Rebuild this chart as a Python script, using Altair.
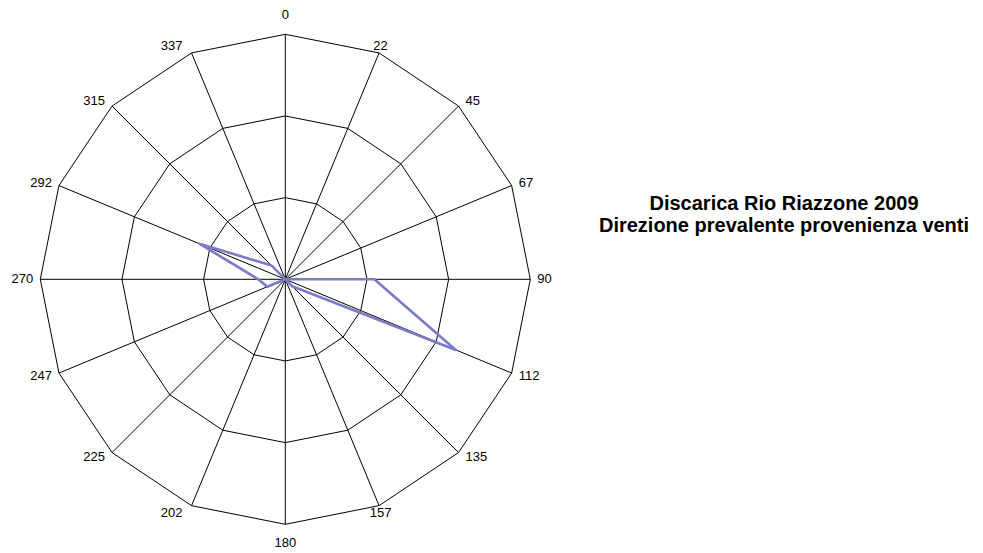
import altair as alt
import pandas as pd

# ---- data ----
directions = ["0", "22", "45", "67", "90", "112", "135", "157",
              "180", "202", "225", "247", "270", "292", "315", "337"]
values = [0, 0, 0, 0, 10.9, 22.6, 1.2, 0, 0, 0, 0, 2.4, 3.3, 11.4, 2.4, 0]
ring_levels = [10, 20, 30]
title_lines = ["Discarica Rio Riazzone 2009", "Direzione prevalente provenienza venti"]

# ---- layout constants ----
N = len(directions)
RMAX = ring_levels[-1]
W, H = 983, 553
CX, CY, R_PX = 285.3, 279.3, 245.0
K = R_PX / RMAX  # px per data unit
FONT = "Liberation Sans"

x_scale = alt.Scale(domain=[-CX / K, (W - CX) / K], nice=False, zero=False)
y_scale = alt.Scale(domain=[-(H - CY) / K, CY / K], nice=False, zero=False)
X = lambda f: alt.X(f, type="quantitative", scale=x_scale, axis=None)
Y = lambda f: alt.Y(f, type="quantitative", scale=y_scale, axis=None)
ANG = f"datum.idx * 2 * PI / {N}"

series_df = pd.DataFrame({
    "dir": directions + [directions[0]],
    "value": values + [values[0]],
    "idx": list(range(N)) + [N],
})
rings_df = pd.DataFrame([{"level": lv, "idx": i} for lv in ring_levels for i in range(N + 1)])
spokes_df = pd.DataFrame({"dir": directions, "idx": list(range(N))})
title_df = pd.DataFrame({"t": ["\n".join(title_lines)]})

rings = alt.Chart(rings_df).transform_calculate(
    a=ANG
).transform_calculate(
    x="datum.level * sin(datum.a)", y="datum.level * cos(datum.a)"
).mark_line(color="black", strokeWidth=1).encode(
    x=X("x"), y=Y("y"), detail="level:N", order="idx:Q"
)

spokes = alt.Chart(spokes_df).transform_calculate(
    a=ANG
).transform_calculate(
    x0="0", y0="0",
    x=f"{RMAX} * sin(datum.a)", y=f"{RMAX} * cos(datum.a)"
).mark_rule(color="black", strokeWidth=1).encode(
    x=X("x0"), y=Y("y0"), x2="x:Q", y2="y:Q"
)

series = alt.Chart(series_df).transform_calculate(
    a=ANG
).transform_calculate(
    x="datum.value * sin(datum.a)", y="datum.value * cos(datum.a)"
).mark_line(color="#7b7bc8", strokeWidth=2.6, strokeJoin="round").encode(
    x=X("x"), y=Y("y"), order="idx:Q"
)

lab_base = alt.Chart(spokes_df).transform_calculate(
    a=ANG
).transform_calculate(
    s="sin(datum.a)", c="cos(datum.a)"
).transform_calculate(
    dxp="datum.s > 0.5 ? 7 : datum.s < -0.5 ? -7 : datum.s > 0.1 ? 1.5 : datum.s < -0.1 ? -20 : 0",
    dyp="abs(datum.c) > 0.95 ? -19 * datum.c : abs(datum.s) <= 0.5 ? -7.5 * datum.c : -7 * datum.c",
).transform_calculate(
    lx=f"{RMAX} * datum.s + datum.dxp / {K}",
    ly=f"{RMAX} * datum.c - datum.dyp / {K}",
)

def lab_layer(filt, align):
    return lab_base.transform_filter(filt).mark_text(
        align=align, baseline="middle", font=FONT, fontSize=13, color="black"
    ).encode(x=X("lx"), y=Y("ly"), text="dir:N")

labels = [
    lab_layer("datum.s > 0.5", "left"),
    lab_layer("datum.s < -0.5", "right"),
    lab_layer("abs(datum.s) <= 0.5", "center"),
]

title = alt.Chart(title_df).mark_text(
    font=FONT, fontSize=20, fontWeight="bold", align="center",
    baseline="alphabetic", lineBreak="\n", lineHeight=22.5, color="black"
).encode(x=alt.value(784), y=alt.value(209.5), text="t:N")

chart = alt.layer(rings, spokes, series, *labels, title).properties(
    width=W, height=H, padding=0,
    autosize=alt.AutoSizeParams(type="none"),
    background="white",
).configure_view(stroke=None)

chart.save("out.html", embed_options={"renderer": "svg", "actions": False})
